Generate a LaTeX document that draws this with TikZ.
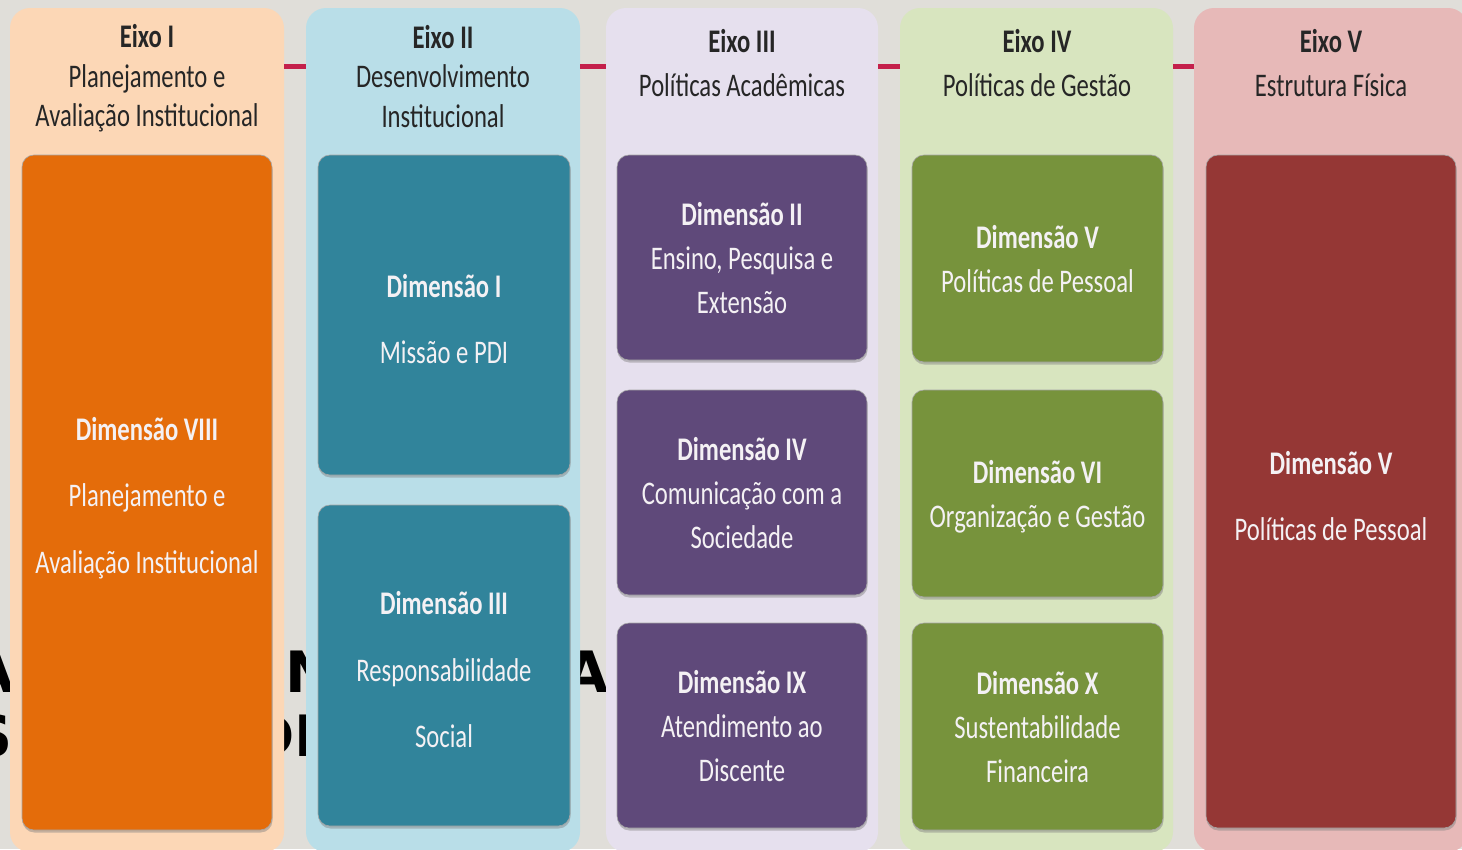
\documentclass[tikz,border=0pt]{standalone}
\usepackage{fontspec}
\setmainfont[FakeStretch=0.747]{Carlito}
\newfontfamily\strayfont{DejaVu Sans}
\usetikzlibrary{shadows}
\definecolor{bgc}{HTML}{E0DED9}
\definecolor{bgA}{HTML}{FCD7B6}
\definecolor{bgB}{HTML}{B9DEE8}
\definecolor{bgC}{HTML}{E6E0EE}
\definecolor{bgD}{HTML}{D8E5BF}
\definecolor{bgE}{HTML}{E7B9B8}
\definecolor{fA}{HTML}{E46C0A}
\definecolor{fB}{HTML}{31849B}
\definecolor{fC}{HTML}{5F497A}
\definecolor{fD}{HTML}{77933C}
\definecolor{fE}{HTML}{953735}
\definecolor{linkc}{HTML}{C4204B}
\definecolor{hdrtext}{HTML}{262626}
\definecolor{intext}{HTML}{F4F1F4}
\tikzset{
  colbox/.style={rounded corners=20pt, minimum width=274pt, inner sep=0pt},
  dimbox/.style={rounded corners=12pt, inner sep=0pt,
     draw=black!35, line width=0.6pt,
     drop shadow={opacity=0.45, shadow xshift=0.5pt, shadow yshift=-2.5pt}},
  dimtext/.style={text=intext, align=center, inner sep=0pt},
  loose/.style={dimtext, font={\fontsize{33}{66.5}\selectfont}},
  tight/.style={dimtext, font={\fontsize{33}{44}\selectfont}},
  hdr/.style={align=center, text=hdrtext, inner sep=0pt},
  hdrA/.style={hdr, font={\fontsize{33}{39.5}\selectfont}},
  hdrB/.style={hdr, font={\fontsize{33}{44}\selectfont}},
  link/.style={draw=linkc, line width=5pt},
  stray/.style={font={\strayfont\bfseries\fontsize{57}{57}\selectfont}, text=black, inner sep=0pt}
}
\begin{document}
\begin{tikzpicture}[x=1pt,y=-1pt]
\useasboundingbox (0,0) rectangle (1462,849);
\clip (0,0) rectangle (1462,849);
\fill[bgc] (0,0) rectangle (1462,849);

% letters of the slide behind, mostly hidden by the columns
\node[stray, anchor=base east] (s1) at (15,692) {A};
\node[stray, anchor=base west] (s2) at (285,692) {N};
\node[stray, anchor=base] (s3) at (587,692) {A};
\node[stray, anchor=base east] (s4) at (13,756) {S};
\node[stray, anchor=base east] (s5) at (316,756) {DI};

% columns
\node[colbox, fill=bgA, minimum height=844pt] (e1) at (147,430) {};
\node[colbox, fill=bgB, minimum height=844pt] (e2) at (443,430) {};
\node[colbox, fill=bgC, minimum height=844pt, minimum width=272pt] (e3) at (742,430) {};
\node[colbox, fill=bgD, minimum height=844pt, minimum width=273pt] (e4) at (1036.5,430) {};
\node[colbox, fill=bgE, minimum height=844pt] (e5) at (1331,430) {};

% connectors
\coordinate (cy) at (0,66);
\draw[link] (e1.east |- cy) -- (e2.west |- cy);
\draw[link] (e2.east |- cy) -- (e3.west |- cy);
\draw[link] (e3.east |- cy) -- (e4.west |- cy);
\draw[link] (e4.east |- cy) -- (e5.west |- cy);

% headers
\node[hdrA] (h1) at (147,78.5) {\textbf{Eixo I}\\Planejamento e\\Avaliação Institucional};
\node[hdrA] (h2) at (443,76.5) {\textbf{Eixo II}\\Desenvolvimento\\Institucional};
\node[hdrB] (h3) at (742,63.5) {\textbf{Eixo III}\\Políticas Acadêmicas};
\node[hdrB] (h4) at (1037,63.5) {\textbf{Eixo IV}\\Políticas de Gestão};
\node[hdrB] (h5) at (1331,63.5) {\textbf{Eixo V}\\Estrutura Física};

% dimension boxes
\node[dimbox, fill=fA, minimum width=250pt, minimum height=675pt] (d8) at (147,492.5) {};
\node[dimbox, fill=fB, minimum width=252pt, minimum height=320pt] (d1) at (444,315) {};
\node[dimbox, fill=fB, minimum width=252pt, minimum height=321pt] (d3) at (444,665.5) {};
\node[dimbox, fill=fC, minimum width=250pt, minimum height=205pt] (d2) at (742,257.5) {};
\node[dimbox, fill=fC, minimum width=250pt, minimum height=205pt] (d4) at (742,492.5) {};
\node[dimbox, fill=fC, minimum width=250pt, minimum height=205pt] (d9) at (742,725.5) {};
\node[dimbox, fill=fD, minimum width=251pt, minimum height=207pt] (d5) at (1037.5,258.5) {};
\node[dimbox, fill=fD, minimum width=251pt, minimum height=207pt] (d6) at (1037.5,493.5) {};
\node[dimbox, fill=fD, minimum width=251pt, minimum height=207pt] (d10) at (1037.5,726.5) {};
\node[dimbox, fill=fE, minimum width=250pt, minimum height=673pt] (d5b) at (1331,491.5) {};

% box texts
\node[loose] (t8) at ([yshift=-5.5pt]d8.center) {\textbf{Dimensão VIII}\\Planejamento e\\Avaliação Institucional};
\node[loose] (t1) at ([yshift=-4pt]d1.center) {\textbf{Dimensão I}\\Missão e PDI};
\node[loose] (t3) at ([yshift=-4.5pt]d3.center) {\textbf{Dimensão III}\\Responsabilidade\\Social};
\node[tight] (t2) at ([yshift=-1pt]d2.center) {\textbf{Dimensão II}\\Ensino, Pesquisa e\\Extensão};
\node[tight] (t4) at ([yshift=-1pt]d4.center) {\textbf{Dimensão IV}\\Comunicação com a\\Sociedade};
\node[tight] (t9) at ([yshift=-1pt]d9.center) {\textbf{Dimensão IX}\\Atendimento ao\\Discente};
\node[tight] (t5) at ([yshift=-1pt]d5.center) {\textbf{Dimensão V}\\Políticas de Pessoal};
\node[tight] (t6) at ([yshift=-3pt]d6.center) {\textbf{Dimensão VI}\\Organização e Gestão};
\node[tight] (t10) at ([yshift=-1pt]d10.center) {\textbf{Dimensão X}\\Sustentabilidade\\Financeira};
\node[loose] (t5b) at ([yshift=-4.5pt]d5b.center) {\textbf{Dimensão V}\\Políticas de Pessoal};
\end{tikzpicture}
\end{document}
